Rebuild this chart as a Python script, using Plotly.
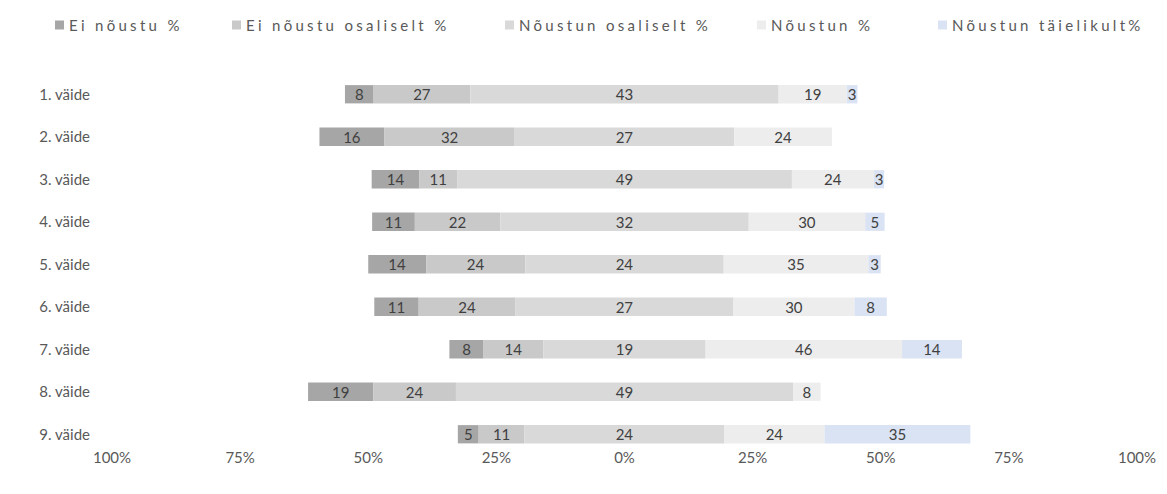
import plotly.graph_objects as go

statements = ["1. väide", "2. väide", "3. väide", "4. väide", "5. väide",
              "6. väide", "7. väide", "8. väide", "9. väide"]
ei_noustu = [8, 16, 14, 11, 14, 11, 8, 19, 5]
ei_noustu_osaliselt = [27, 32, 11, 22, 24, 24, 14, 24, 11]
noustun_osaliselt = [43, 27, 49, 32, 24, 27, 19, 49, 24]
noustun = [19, 24, 24, 30, 35, 30, 46, 8, 24]
noustun_taielikult = [3, 0, 3, 5, 3, 8, 14, 0, 35]

series_names = ["Ei nõustu %", "Ei nõustu osaliselt %", "Nõustun osaliselt %",
                "Nõustun %", "Nõustun täielikult%"]
colors = ["#a6a6a6", "#c9c9c9", "#d9d9d9", "#ededed", "#dae3f3"]
tick_vals = [-100, -75, -50, -25, 0, 25, 50, 75, 100]
tick_text = ["100%", "75%", "50%", "25%", "0%", "25%", "50%", "75%", "100%"]

FONT = "Lato"
TEXT_COLOR = "#595959"
LABEL_COLOR = "#404040"
W, H = 1167, 494
L, R, T, B = 112, 30, 73, 47

# 100%-stacked normalisation with the middle category split around zero
bases = [[] for _ in range(5)]
widths = [[] for _ in range(5)]
for d1, d2, m, a1, a2 in zip(ei_noustu, ei_noustu_osaliselt, noustun_osaliselt,
                              noustun, noustun_taielikult):
    f = 100.0 / (d1 + d2 + 2 * m + a1 + a2)
    segs = [(-(m + d2 + d1) * f, d1 * f), (-(m + d2) * f, d2 * f),
            (-m * f, 2 * m * f), (m * f, a1 * f), ((m + a1) * f, a2 * f)]
    for i, (b, w) in enumerate(segs):
        bases[i].append(b)
        widths[i].append(w)

values = [ei_noustu, ei_noustu_osaliselt, noustun_osaliselt, noustun, noustun_taielikult]

fig = go.Figure()
for i in range(5):
    fig.add_trace(go.Bar(
        y=statements, x=widths[i], base=bases[i], orientation="h",
        name=series_names[i], marker=dict(color=colors[i], line=dict(width=0)),
        text=[str(v) if v else "" for v in values[i]],
        textposition="inside", insidetextanchor="middle", constraintext="none",
        textangle=0,
        insidetextfont=dict(family=FONT, size=15, color=LABEL_COLOR),
        showlegend=False, hoverinfo="skip",
    ))

# manual legend (square + text), positions in pixels
legend_px = [55, 232, 505, 757, 938]
pw = W - L - R
ph = H - T - B
for i, px in enumerate(legend_px):
    x0 = (px - L) / pw
    x1 = (px + 9 - L) / pw
    yc = (H - B - 25) / ph
    fig.add_shape(type="rect", xref="paper", yref="paper",
                  x0=x0, x1=x1, y0=yc - 4.5 / ph, y1=yc + 4.5 / ph,
                  fillcolor=colors[i], line=dict(width=0))
    fig.add_annotation(xref="paper", yref="paper", x=(px + 12 - L) / pw, y=yc,
                       xanchor="left", yanchor="middle", showarrow=False,
                       text='<span style="letter-spacing:3.3px">' + series_names[i] + '</span>',
                       font=dict(family=FONT, size=15, color=TEXT_COLOR))

fig.update_layout(
    width=W, height=H, margin=dict(l=L, r=R, t=T, b=B),
    barmode="overlay", bargap=0.57,
    plot_bgcolor="white", paper_bgcolor="white",
    font=dict(family=FONT, size=15, color=TEXT_COLOR),
    xaxis=dict(range=[-100, 100], tickvals=tick_vals, ticktext=tick_text,
               showgrid=False, zeroline=False, showline=False, ticks="",
               fixedrange=True),
    yaxis=dict(range=[8.3, -0.5], showgrid=False, zeroline=False,
               showline=False, ticks="", ticklabelstandoff=21),
)

fig.write_html("out.html")
